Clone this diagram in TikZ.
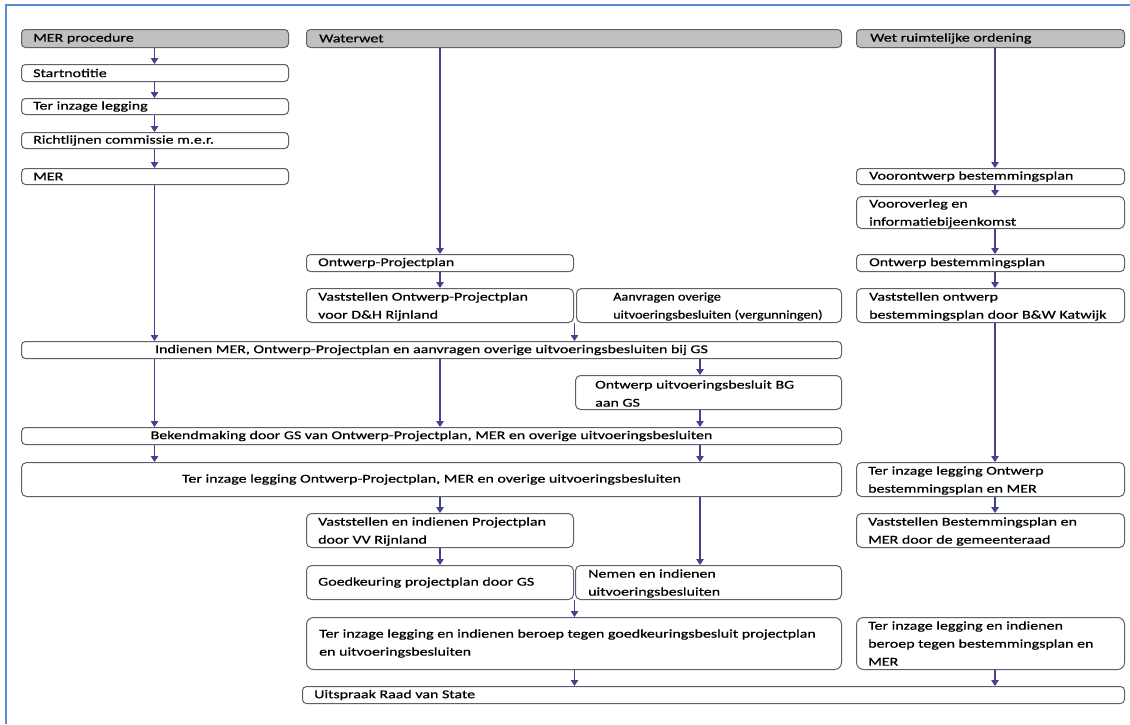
\documentclass[tikz,border=0pt]{standalone}
\usepackage{fontspec}
\setmainfont{Carlito}[FakeStretch=1.33,FakeBold=0.6]
\newfontfamily\narrowfont{Carlito}[FakeStretch=1.19,FakeBold=0.6]
\usetikzlibrary{arrows.meta,calc}
\definecolor{frameblue}{HTML}{5B8AD6}
\definecolor{boxline}{HTML}{5E5F70}
\definecolor{hdrfill}{HTML}{C0C0C0}
\definecolor{arrowcol}{HTML}{42428E}
\tikzset{
  bx/.style={draw=boxline, line width=1pt, fill=white, rounded corners=4pt, anchor=north west, inner sep=0pt, minimum width=#1},
  hdr/.style={bx=#1, fill=hdrfill, minimum height=18pt},
  lbl/.style={inner sep=0pt, align=left, anchor=west, font=\fontsize{12}{18}\selectfont},
  clbl/.style={inner sep=0pt, align=center, font=\fontsize{12}{18}\selectfont},
  arr/.style={draw=arrowcol, line width=1.1pt, -{Triangle[width=7.5pt,length=6pt]}},
}
\begin{document}
\begin{tikzpicture}[x=1pt,y=-1pt]
\useasboundingbox (0,0) rectangle (1130,724);
\fill[white] (0,0) rectangle (1130,724);
\draw[frameblue, line width=2.2pt] (6,724) -- (6,5) -- (1130,5);

% helper coordinates for connector columns
\coordinate (xA) at (154.5,0);
\coordinate (xB) at (440,0);
\coordinate (xJ) at (574.5,0);
\coordinate (xC) at (700,0);
\coordinate (xD) at (995,0);

% headers
\node[hdr=267pt] (h1) at (21,29) {};
\node[lbl] (h1t) at ([xshift=12pt]h1.west) {MER procedure};
\node[hdr=535pt] (h2) at (306,29) {};
\node[lbl] (h2t) at ([xshift=13pt]h2.west) {Waterwet};
\node[hdr=268pt] (h3) at (856,29) {};
\node[lbl] (h3t) at ([xshift=14pt]h3.west) {Wet ruimtelijke ordening};

% column 1
\node[bx=267pt, minimum height=17pt] (start) at (21,64) {};
\node[lbl] (startt) at ([xshift=12pt]start.west) {Startnotitie};
\node[bx=267pt, minimum height=16pt] (terinz) at (21,98) {};
\node[lbl] (terinzt) at ([xshift=12pt]terinz.west) {Ter inzage legging};
\node[bx=267pt, minimum height=16pt] (richt) at (21,132) {};
\node[lbl] (richtt) at ([xshift=12pt]richt.west) {Richtlijnen commissie m.e.r.};
\node[bx=267pt, minimum height=16pt] (mer) at (21,168) {};
\node[lbl] (mert) at ([xshift=12pt]mer.west) {MER};

% column 3 upper
\node[bx=268pt, minimum height=16pt] (voorontw) at (856,168) {};
\node[lbl] (voorontwt) at ([xshift=13pt]voorontw.west) {Voorontwerp bestemmingsplan};
\node[bx=268pt, minimum height=32pt, rounded corners=5pt] (vooroverleg) at (856,196) {};
\node[lbl] (vooroverlegt) at ([xshift=13pt,yshift=-1pt]vooroverleg.west) {Vooroverleg en\\informatiebijeenkomst};
\node[bx=268pt, minimum height=17pt] (ontwBP) at (856,254) {};
\node[lbl] (ontwBPt) at ([xshift=13pt]ontwBP.west) {Ontwerp bestemmingsplan};
\node[bx=268pt, minimum height=34pt, rounded corners=5pt] (vastOBP) at (856,288) {};
\node[lbl] (vastOBPt) at ([xshift=13pt,yshift=-1pt]vastOBP.west) {Vaststellen ontwerp\\bestemmingsplan door B\&W Katwijk};

% column 2 upper
\node[bx=267pt, minimum height=17pt] (ontwPP) at (306,254) {};
\node[lbl] (ontwPPt) at ([xshift=12pt]ontwPP.west) {Ontwerp-Projectplan};
\node[bx=267pt, minimum height=34pt, rounded corners=5pt] (vastOPP) at (306,288) {};
\node[lbl] (vastOPPt) at ([xshift=12pt,yshift=-1pt]vastOPP.west) {Vaststellen Ontwerp-Projectplan\\voor D\&H Rijnland};
\node[bx=265pt, minimum height=34pt, rounded corners=5pt] (aanvr) at (576,288) {};
\node[lbl, font=\narrowfont\fontsize{12}{18}\selectfont] (aanvrt) at ([xshift=37pt,yshift=-1pt]aanvr.west) {Aanvragen overige\\uitvoeringsbesluiten (vergunningen)};

% wide rows
\node[bx=820pt, minimum height=17pt] (indienen) at (21,341) {};
\node[clbl] (indienent) at (indienen.center) {Indienen MER, Ontwerp-Projectplan en aanvragen overige uitvoeringsbesluiten bij GS};
\node[bx=266pt, minimum height=34pt, rounded corners=5pt] (ontwUB) at (575,375) {};
\node[lbl] (ontwUBt) at ([xshift=20pt,yshift=-1pt]ontwUB.west) {Ontwerp uitvoeringsbesluit BG\\aan GS};
\node[bx=820pt, minimum height=17pt] (bekend) at (21,427) {};
\node[clbl] (bekendt) at (bekend.center) {Bekendmaking door GS van Ontwerp-Projectplan, MER en overige uitvoeringsbesluiten};
\node[bx=820pt, minimum height=34pt, rounded corners=5pt] (terinzOPP) at (21,462) {};
\node[clbl] (terinzOPPt) at (terinzOPP.center) {Ter inzage legging Ontwerp-Projectplan, MER en overige uitvoeringsbesluiten};

% column 3 lower
\node[bx=268pt, minimum height=34pt, rounded corners=5pt] (terinzOBP) at (856,462) {};
\node[lbl] (terinzOBPt) at ([xshift=12pt,yshift=-1pt]terinzOBP.west) {Ter inzage legging Ontwerp\\bestemmingsplan en MER};
\node[bx=268pt, minimum height=34pt, rounded corners=5pt] (vastBP) at (856,513) {};
\node[lbl] (vastBPt) at ([xshift=12pt,yshift=-1pt]vastBP.west) {Vaststellen Bestemmingsplan en\\MER door de gemeenteraad};
\node[bx=268pt, minimum height=52pt, rounded corners=7pt] (beroepR) at (856,617) {};
\node[lbl] (beroepRt) at ([xshift=12pt]beroepR.west) {Ter inzage legging en indienen\\beroep tegen bestemmingsplan en\\MER};

% column 2 lower
\node[bx=267pt, minimum height=34pt, rounded corners=5pt] (vastPP) at (306,513) {};
\node[lbl] (vastPPt) at ([xshift=12pt,yshift=-1pt]vastPP.west) {Vaststellen en indienen Projectplan\\door VV Rijnland};
\node[bx=267pt, minimum height=34pt, rounded corners=5pt] (goedk) at (306,565) {};
\node[lbl] (goedkt) at ([xshift=12pt]goedk.west) {Goedkeuring projectplan door GS};
\node[bx=266pt, minimum height=34pt, rounded corners=5pt] (nemen) at (575,565) {};
\node[lbl] (nement) at ([xshift=13pt,yshift=-1pt]nemen.west) {Nemen en indienen\\uitvoeringsbesluiten};
\node[bx=535pt, minimum height=52pt, rounded corners=7pt] (beroepM) at (306,617) {};
\node[lbl] (beroepMt) at ([xshift=13pt]beroepM.west) {Ter inzage legging en indienen beroep tegen goedkeuringsbesluit projectplan\\en uitvoeringsbesluiten};
\node[bx=822pt, minimum height=17pt] (uitspraak) at (302,686) {};
\node[lbl] (uitspraakt) at ([xshift=12pt]uitspraak.west) {Uitspraak Raad van State};

% connectors column 1
\draw[arr] (h1.south -| xA) -- (start.north -| xA);
\draw[arr] (start.south -| xA) -- (terinz.north -| xA);
\draw[arr] (terinz.south -| xA) -- (richt.north -| xA);
\draw[arr] (richt.south -| xA) -- (mer.north -| xA);
\draw[arr] (mer.south -| xA) -- (indienen.north -| xA);
\draw[arr] (indienen.south -| xA) -- (bekend.north -| xA);
\draw[arr] (bekend.south -| xA) -- (terinzOPP.north -| xA);

% connectors column 2
\draw[arr] (h2.south -| xB) -- (ontwPP.north -| xB);
\draw[arr] (ontwPP.south -| xB) -- (vastOPP.north -| xB);
\draw[arr] (vastOPP.south -| xJ) -- (indienen.north -| xJ);
\draw[arr] (indienen.south -| xB) -- (bekend.north -| xB);
\draw[arr] (indienen.south -| xC) -- (ontwUB.north -| xC);
\draw[arr] (ontwUB.south -| xC) -- (bekend.north -| xC);
\draw[arr] (bekend.south -| xC) -- (terinzOPP.north -| xC);
\draw[arr] (terinzOPP.south -| xB) -- (vastPP.north -| xB);
\draw[arr] (terinzOPP.south -| xC) -- (nemen.north -| xC);
\draw[arr] (vastPP.south -| xB) -- (goedk.north -| xB);
\draw[arr] (goedk.south -| xJ) -- (beroepM.north -| xJ);
\draw[arr] (beroepM.south -| xJ) -- (uitspraak.north -| xJ);

% connectors column 3
\draw[arr] (h3.south -| xD) -- (voorontw.north -| xD);
\draw[arr] (voorontw.south -| xD) -- (vooroverleg.north -| xD);
\draw[arr] (vooroverleg.south -| xD) -- (ontwBP.north -| xD);
\draw[arr] (ontwBP.south -| xD) -- (vastOBP.north -| xD);
\draw[arr] (vastOBP.south -| xD) -- (terinzOBP.north -| xD);
\draw[arr] (terinzOBP.south -| xD) -- (vastBP.north -| xD);
\draw[arr] (beroepR.south -| xD) -- (uitspraak.north -| xD);
\end{tikzpicture}
\end{document}
